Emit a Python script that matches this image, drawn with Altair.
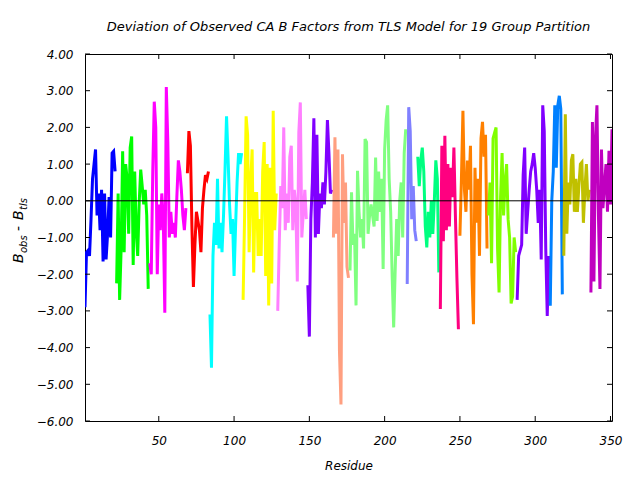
import altair as alt
import pandas as pd

# ---- data ----
group_starts = [1, 22, 44, 69, 84, 106, 129, 149, 166, 177, 215, 222, 237, 250, 269, 288, 310, 319, 337]
group_colors = ["#0000ff", "#00ff00", "#ff00ff", "#ff0000", "#00ffff", "#ffff00", "#ff80ff",
                "#8000ff", "#ff9f80", "#80ff80", "#8080ff", "#00ff80", "#ff0080", "#ff8000",
                "#80ff00", "#8000ff", "#0080ff", "#c0c000", "#c000c0"]

g01 = [-2.9, -1.4, -1.35, -1.5, -0.5, 0.6, 1.0, 1.4, -0.4, 0.2, -0.8, 0.3, -1.65, 0.2, -1.6, -0.9, 0.1, -1.0, 1.3, 1.35, 0.8]
g02 = [-2.25, 0.2, -2.7, -1.3, 1.35, -1.4, 1.0, 0.6, -0.9, 1.45, 1.75, -1.75, 0.8, -0.8, -1.5, -0.05, 0.85, 0.4, -0.1, 0.3, -0.4, -2.4]
g03 = [-1.7, -2.0, 0.8, 2.7, 2.0, -2.0, -0.1, -0.8, 0.2, -0.5, -3.05, 3.1, 1.6, -1.0, -0.3, -0.9, -0.6, -1.0, 0.1, 1.1, 0.8, 0.3, -0.4, -0.8, -0.2]
g04 = [0.75, 1.9, 1.5, -0.7, -2.35, -1.2, -0.3, -0.55, -0.8, -1.4, -0.2, 0.3, 0.7, 0.6, 0.8]
g05 = [-3.1, -4.55, -1.5, -0.6, -1.2, 0.6, -1.3, -0.6, -1.4, -0.4, 0.85, 2.3, 1.2, -0.1, -0.9, -0.5, -2.05, -0.7, 0.5, 1.3, 1.0, 1.3]
g06 = [-2.7, -0.4, 2.3, 1.8, -1.4, 0.5, 1.4, -1.95, 0.2, 0.2, -1.5, -0.5, -1.5, 0.8, 1.6, -2.05, 1.0, -2.85, 0.9, -2.25, 2.45, -0.8, 0.2]
g07 = [-3.0, -1.2, 0.4, -0.2, 2.0, -0.8, 0.2, -0.6, 1.2, 1.5, -0.8, 0.3, -0.1, -2.2, 1.86, 2.68, -1.0, -0.3, 0.3, -0.5]
g08 = [-2.3, -3.7, -0.5, 0.5, 2.25, -1.0, 1.8, -0.9, 0.2, -0.2, 0.5, -0.1, 0.8, 2.2, 1.3, 0.2, 0.3]
g09 = [-1.0, 1.73, -0.9, 1.4, -4.1, -5.55, 1.27, -0.6, 0.5, -1.8, -2.1]
g10 = [-1.9, 0.23, -1.2, -0.9, -2.85, 0.82, -0.3, -1.0, -0.5, -1.3, 1.68, 1.6, -0.9, -0.4, -0.1, -0.4, -0.7, 1.18, -0.55,
       0.8, -0.3, 0.6, -1.86, 1.4, 2.2, 2.6, 0.6, -0.3, -2.05, -3.45, -1.9, -0.5, -1.5, 0.0, 0.5, -1.0, 1.3, 1.95]
g11 = [-2.27, 2.55, 1.9, -0.5, 0.4, -0.8, -1.1]
g12 = [1.2, 0.4, 1.1, 1.45, 0.8, -0.7, -1.27, -0.3, -1.0, 0.0, -0.9, 0.0, 1.1, 0.6, -1.95]
g13 = [-2.95, 1.5, -1.1, 1.77, -0.8, 1.0, -0.7, 0.9, 0.1, 1.45, -0.4, -2.1, -3.5]
g14 = [-0.95, 0.6, 2.45, 0.3, -0.3, 1.1, 0.3, 1.5, -2.0, -3.36, 0.9, -0.6, 0.6, -1.5, 1.7, 2.15, 1.2, 1.8, -1.3]
g15 = [-0.4, 0.5, -1.7, 1.7, 1.85, 2.0, -1.3, -2.5, 0.1, 1.3, -0.4, 0.5, 1.0, -0.5, -1.0, -2.8, -2.6, -1.0, -1.4]
g16 = [-2.7, -1.5, -1.35, -1.2, 0.7, 1.45, -0.9, -0.3, 0.3, 0.8, 1.0, 1.3, 0.9, 0.3, -0.6, 0.3, -1.6, 2.6, 1.9, -1.3, -3.14, -1.5]
g17 = [-2.86, 0.0, 0.8, 2.6, 0.9, 2.6, 2.86, 2.5, -2.55]
g18 = [-1.5, 2.36, -0.9, 0.5, -0.1, 1.1, 1.27, -0.3, 0.6, -0.3, 0.4, 1.0, 1.05, -0.6, 0.3, 1.0, 0.0, 0.3]
g19 = [-2.5, 2.15, -2.2, 1.7, 2.6, -0.4, -2.4, 1.4, -0.2, 0.4, 1.0, -0.3, 1.36, -0.1, 1.95]

x_ticks = [50, 100, 150, 200, 250, 300, 350]
y_ticks = [-6, -5, -4, -3, -2, -1, 0, 1, 2, 3, 4]

groups = [g01, g02, g03, g04, g05, g06, g07, g08, g09, g10, g11, g12, g13, g14, g15, g16, g17, g18, g19]
group_names = ["G%02d" % (i + 1) for i in range(len(groups))]

rows = []
for name, start, vals in zip(group_names, group_starts, groups):
    for k, v in enumerate(vals):
        rows.append({"residue": start + k, "dev": v, "group": name})
df = pd.DataFrame(rows)

W, H = 527, 367
FONT = "DejaVu Sans"
xscale = alt.Scale(domain=[1, 351], nice=False, zero=False)
yscale = alt.Scale(domain=[-6, 4], nice=False, zero=False)
xaxis = alt.Axis(values=x_ticks, title="Residue", labelPadding=14, titlePadding=14)
yaxis = alt.Axis(values=y_ticks, format=".2f", title=None, labelPadding=12)

X = alt.X("residue:Q", scale=xscale, axis=xaxis)
Y = alt.Y("dev:Q", scale=yscale, axis=yaxis)

lines = alt.Chart(df).mark_line(strokeWidth=3, clip=True).encode(
    x=X, y=Y,
    color=alt.Color("group:N", scale=alt.Scale(domain=group_names, range=group_colors), legend=None),
    detail="group:N",
    order="residue:Q",
)

zero_df = pd.DataFrame({"dev": [0]})
zero = alt.Chart(zero_df).mark_rule(color="black", strokeWidth=1).encode(y=Y)

ydf = pd.DataFrame({"dev": y_ticks})
xdf = pd.DataFrame({"residue": x_ticks})
tick_l = alt.Chart(ydf).mark_rule(color="black", strokeWidth=1).encode(
    y=Y, x=alt.value(0), x2=alt.value(5))
tick_r = alt.Chart(ydf).mark_rule(color="black", strokeWidth=1).encode(
    y=Y, x=alt.value(W), x2=alt.value(W - 5))
tick_b = alt.Chart(xdf).mark_rule(color="black", strokeWidth=1).encode(
    x=X, y=alt.value(H), y2=alt.value(H - 5))
tick_t = alt.Chart(xdf).mark_rule(color="black", strokeWidth=1).encode(
    x=X, y=alt.value(0), y2=alt.value(5))

# y-axis title with subscripts: B_obs - B_tls
def piece(txt, size, x, y):
    return alt.Chart(alt.Data(values=[{}])).mark_text(
        text=txt, font=FONT, fontSize=size, fontStyle="italic", angle=270,
        align="left", baseline="alphabetic", color="black"
    ).encode(x=alt.value(x), y=alt.value(y))

ytitle = [
    piece("B", 14, -62, 209),
    piece("obs", 10, -58, 199),
    piece("-", 14, -62, 177),
    piece("B", 14, -62, 166),
    piece("tls", 10, -58, 156),
]

chart = alt.layer(lines, zero, tick_l, tick_r, tick_b, tick_t, *ytitle).properties(
    width=W, height=H,
    autosize=alt.AutoSizeParams(type="none"),
    padding={"left": 77, "top": 46, "right": 20, "bottom": 70},
    title=alt.TitleParams(
        "Deviation of Observed CA B Factors from TLS Model for 19 Group Partition",
        font=FONT, fontSize=13, fontStyle="italic", fontWeight="normal",
        anchor="middle", offset=14, color="black"),
).configure_view(
    stroke="black", strokeWidth=1
).configure_axis(
    domain=False, grid=False, ticks=False,
    labelFont=FONT, labelFontSize=12, labelFontStyle="italic", labelColor="black",
    titleFont=FONT, titleFontSize=12, titleFontStyle="italic", titleFontWeight="normal",
    titleColor="black",
)

chart.save("out.html", embed_options={"renderer": "svg", "actions": False})
